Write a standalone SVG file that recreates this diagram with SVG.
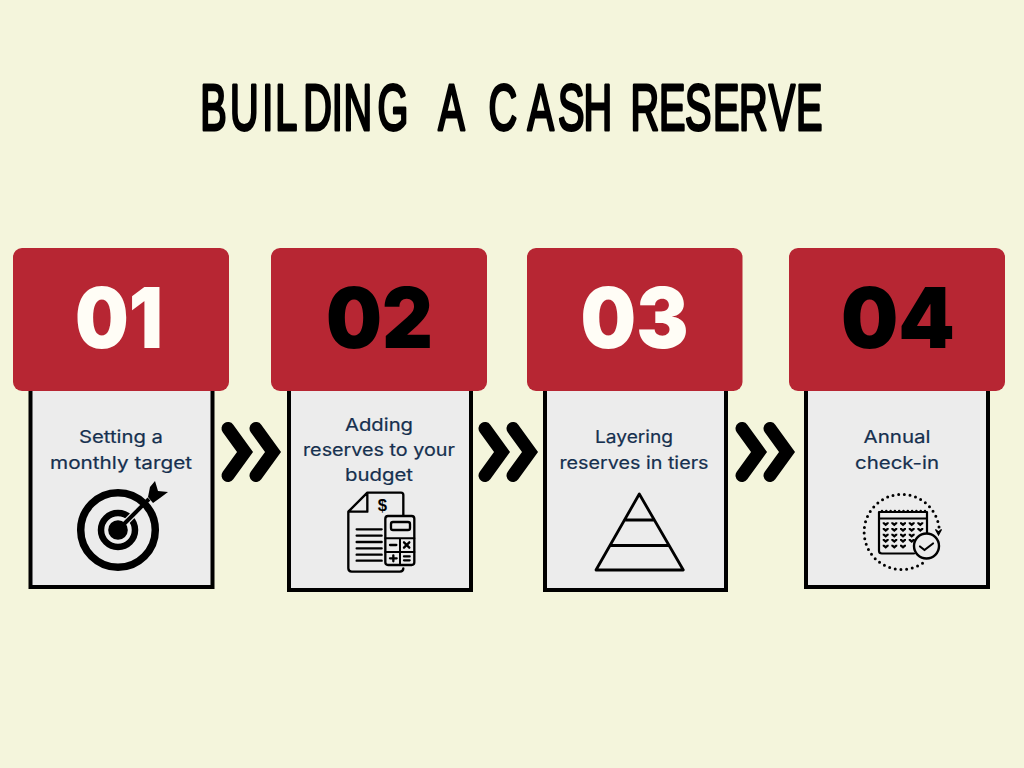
<svg xmlns="http://www.w3.org/2000/svg" width="1024" height="768" viewBox="0 0 1024 768">
<style>
.box{fill:#ececec;stroke:#000;stroke-width:4}
.head{fill:#b72633}
.num{font-family:"Inter","Liberation Sans",sans-serif;font-weight:900;font-size:84px;text-anchor:middle}
.lt{fill:#fffdf6}.dk{fill:#000}
.lab{font-family:"Inter","Noto Sans",sans-serif;font-weight:400;font-size:17.5px;fill:#16304f;stroke:#16304f;stroke-width:.2;text-anchor:middle}
.chev{fill:none;stroke:#000;stroke-width:13;stroke-linecap:round;stroke-linejoin:miter}
.ln{fill:none;stroke:#000;stroke-linecap:round;stroke-linejoin:round}
.title{font-family:"Liberation Sans",sans-serif;font-weight:400;font-size:64px;fill:#000;stroke:#000;stroke-width:3;stroke-linejoin:round;stroke-linecap:round}
</style>
<defs>
<g id="dbl"><path class="chev" d="M228 428.500L245 452L228 475.500"/><path class="chev" d="M256 428.500L273 452L256 475.500"/></g>
<path id="ht" d="M-3 -2L-1.300 -2L0 -1L1.300 -2L3 -2L3 -.5L0 2L-3 -.5Z" fill="#000"/>
</defs>
<rect width="1024" height="768" fill="#f4f5dc"/>
<text id="title" class="title" transform="scale(.62 1)" y="130.500" x="323 371 423 444 489 535 554 609 680 707 770 788 851 900 941 990 1017 1063 1105 1150 1192 1240 1284">BUILDING A CASH RESERVE</text>

<g id="connectors">
<use href="#dbl"/>
<use href="#dbl" x="257"/>
<use href="#dbl" x="514"/>
</g>

<g id="step1">
<rect class="box" x="30.500" y="380" width="182" height="207"/>
<rect class="head" x="13" y="248" width="216" height="143" rx="9"/>
<text class="num lt" x="119" y="348" textLength="88" lengthAdjust="spacingAndGlyphs">01</text>
<text class="lab" x="121" y="443" textLength="84" lengthAdjust="spacingAndGlyphs">Setting a</text>
<text class="lab" x="121" y="469" textLength="142" lengthAdjust="spacingAndGlyphs">monthly target</text>
<circle class="ln" cx="118" cy="530" r="37.300" stroke-width="7.500"/>
<circle class="ln" cx="118" cy="530" r="17" stroke-width="6.500"/>
<path d="M126 522L138 510" fill="none" stroke="#ececec" stroke-width="6.500"/>
<circle cx="118" cy="530" r="9.800" fill="#000"/>
<path d="M118 530L149 499" fill="none" stroke="#000" stroke-width="4"/>
<path d="M155 481L158 491L168 492L160 498L153 503L148 497L150 487Z" fill="#000"/>
</g>

<g id="step2">
<rect class="box" x="289" y="380" width="182" height="210"/>
<rect class="head" x="271" y="248" width="216" height="143" rx="9"/>
<text class="num dk" x="379.500" y="348" textLength="107" lengthAdjust="spacingAndGlyphs">02</text>
<text class="lab" x="379" y="431" textLength="68" lengthAdjust="spacingAndGlyphs">Adding</text>
<text class="lab" x="379" y="456" textLength="152" lengthAdjust="spacingAndGlyphs">reserves to your</text>
<text class="lab" x="379" y="481" textLength="68" lengthAdjust="spacingAndGlyphs">budget</text>
<g transform="translate(335 480) scale(.3333)">
<path class="ln" stroke-width="7" d="M205 105V45Q205 38 198 38H97L40 95V265Q40 275 50 275H195Q205 275 205 265M97 38V95H40"/>
<path class="ln" stroke-width="7" d="M65 148H140M65 167H140M65 186H140M65 205H140M65 224H140M65 242H140"/>
<rect class="ln" stroke-width="7" x="151" y="108" width="87" height="147" rx="8" fill="#ececec"/>
<rect class="ln" stroke-width="7" x="168" y="126" width="57" height="24" rx="6"/>
<path class="ln" stroke-width="6" d="M151 175H238M151 216H238M195 175V255"/>
<path class="ln" stroke-width="7" d="M165 195H184M207 187L223 203M223 187L207 203M165 235H185M175 226V244M207 229H224M207 241H224"/>
<text x="142" y="94" font-family="Liberation Sans,sans-serif" font-weight="700" font-size="50" text-anchor="middle" fill="#000">$</text>
</g>
</g>

<g id="step3">
<rect class="box" x="545" y="380" width="181" height="210"/>
<rect class="head" x="527" y="248" width="215.500" height="143" rx="9"/>
<text class="num lt" x="634.500" y="348" textLength="108" lengthAdjust="spacingAndGlyphs">03</text>
<text class="lab" x="634" y="443" textLength="78" lengthAdjust="spacingAndGlyphs">Layering</text>
<text class="lab" x="634" y="469" textLength="149" lengthAdjust="spacingAndGlyphs">reserves in tiers</text>
<path class="ln" stroke-width="2.800" d="M639.300 494L596 570H683.300ZM625 520H653.500M610.500 545.500H668.500"/>
</g>

<g id="step4">
<rect class="box" x="806" y="380" width="182" height="207"/>
<rect class="head" x="789" y="248" width="216" height="143" rx="9"/>
<text class="num dk" x="898" y="348" textLength="114" lengthAdjust="spacingAndGlyphs">04</text>
<text class="lab" x="897" y="443" textLength="67" lengthAdjust="spacingAndGlyphs">Annual</text>
<text class="lab" x="897" y="469" textLength="84" lengthAdjust="spacingAndGlyphs">check-in</text>
<path d="M939 527A37.600 37.600 0 1 0 923 563" fill="none" stroke="#000" stroke-width="3" stroke-linecap="round" stroke-dasharray="0 5.700"/>
<path d="M935.500 529.500L938.500 532L941.500 529.500L938.500 535Z" fill="#000" stroke="#000" stroke-width="1.200"/>
<path class="ln" stroke-width="2.200" d="M927 533V512H879V551Q879 553.500 882 553.500H914M879 518.500H927"/>
<path d="M882 511H926" stroke="#000" stroke-width="2.500" stroke-linecap="round" stroke-dasharray="0 4.300"/>
<g>
<use href="#ht" x="885.700" y="524.300"/><use href="#ht" x="894.300" y="524.300"/><use href="#ht" x="903" y="524.300"/><use href="#ht" x="911.700" y="524.300"/><use href="#ht" x="920.300" y="524.300"/>
<use href="#ht" x="885.700" y="530"/><use href="#ht" x="894.300" y="530"/><use href="#ht" x="903" y="530"/><use href="#ht" x="911.700" y="530"/><use href="#ht" x="920.300" y="530"/>
<use href="#ht" x="885.700" y="535.700"/><use href="#ht" x="894.300" y="535.700"/><use href="#ht" x="903" y="535.700"/><use href="#ht" x="911.700" y="535.700"/>
<use href="#ht" x="885.700" y="541"/><use href="#ht" x="894.300" y="541"/><use href="#ht" x="903" y="541"/><use href="#ht" x="911.700" y="541"/>
<use href="#ht" x="885.700" y="546.700"/><use href="#ht" x="894.300" y="546.700"/><use href="#ht" x="903" y="546.700"/>
</g>
<circle cx="926.500" cy="546" r="12.500" fill="#ececec" stroke="#000" stroke-width="2.400"/>
<path class="ln" stroke-width="2.200" d="M920 546.500L924.500 550L933 543.500"/>
</g>
</svg>
